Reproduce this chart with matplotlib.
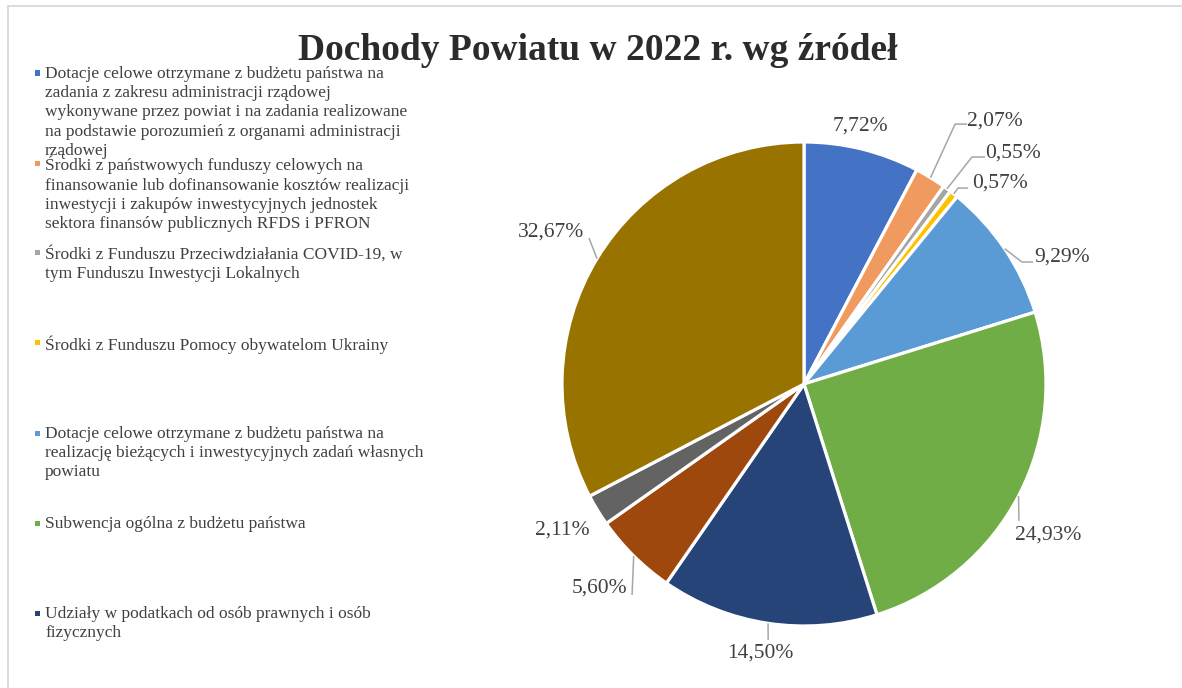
import numpy as np
import matplotlib
matplotlib.use("Agg")
import matplotlib.pyplot as plt
from matplotlib.lines import Line2D
from matplotlib.patches import Rectangle

# ---------------- data ----------------
title = "Dochody Powiatu w 2022 r. wg źródeł"
values = [7.72, 2.07, 0.55, 0.57, 9.29, 24.93, 14.50, 5.60, 2.11, 32.67]
legend_labels = [
    "Dotacje celowe otrzymane z budżetu państwa na\nzadania z zakresu administracji rządowej\n"
    "wykonywane przez powiat i na zadania realizowane\nna podstawie porozumień z organami administracji\nrządowej",
    "Środki z państwowych funduszy celowych na\nfinansowanie lub dofinansowanie kosztów realizacji\n"
    "inwestycji i zakupów inwestycyjnych jednostek\nsektora finansów publicznych RFDS i PFRON",
    "Środki z Funduszu Przeciwdziałania COVID-19, w\ntym Funduszu Inwestycji Lokalnych",
    "Środki z Funduszu Pomocy obywatelom Ukrainy",
    "Dotacje celowe otrzymane z budżetu państwa na\nrealizację bieżących i inwestycyjnych zadań własnych\npowiatu",
    "Subwencja ogólna z budżetu państwa",
    "Udziały w podatkach od osób prawnych i osób\nfizycznych",
]

# ---------------- style ----------------
colors = ["#4472C4", "#F09A60", "#A5A5A5", "#FFC000", "#5B9BD5",
          "#70AD47", "#264478", "#9E480E", "#636363", "#997300"]
SERIF = ["Liberation Serif", "DejaVu Serif"]
TXT = "#404040"
LEAD = "#A6A6A6"

# label placement: angle shift from wedge middle (deg, clockwise) and distance (in radii)
lab_shift = [-1.65, 4.5, 5.9, 6.05, 7.8, 4.1, 0.7, 0.4, 0.3, -0.2]
lab_dist = [1.091, 1.343, 1.287, 1.160, 1.188, 1.187, 1.126, 1.195, 1.168, 1.220]
# leader points relative to the label centre (pixels, image y down)
leaders = {1: [(-40, 3), (-28, 3)], 2: [(-41, 4), (-28, 4)], 3: [(-42, 5), (-32, 5)],
           4: [(-40, 5), (-29, 5)], 5: [(-29.5, -14)], 6: [(8, -13)], 7: [(33, 7)],
           9: [(38, 6)]}

W, H = 1182, 688
R_PX = 242.0
CX, CY = 804, 384  # pie centre in image pixels (from top)

fig = plt.figure(figsize=(W / 100, H / 100), dpi=100)
fig.patch.set_facecolor("white")

# frame lines (top and left visible)
fig.add_artist(Line2D([8 / W, 1.0], [1 - 6 / H, 1 - 6 / H], transform=fig.transFigure,
                      color="#D9D9D9", lw=1.3))
fig.add_artist(Line2D([8 / W, 8 / W], [0, 1 - 6 / H], transform=fig.transFigure,
                      color="#D9D9D9", lw=1.3))

xl = (-1.4, 1.55)
yl = (-1.25, 1.45)
left = CX - (-xl[0]) * R_PX
bottom = (H - CY) - (-yl[0]) * R_PX
ax = fig.add_axes([left / W, bottom / H, (xl[1] - xl[0]) * R_PX / W, (yl[1] - yl[0]) * R_PX / H])

wedges, _ = ax.pie(values, colors=colors, startangle=90, counterclock=False, radius=1,
                   wedgeprops=dict(edgecolor="white", linewidth=2.3))
ax.set_aspect("auto")
ax.set_xlim(*xl)
ax.set_ylim(*yl)
ax.axis("off")

for i, (w, v) in enumerate(zip(wedges, values)):
    mid = np.deg2rad((w.theta1 + w.theta2) / 2.0)  # counterclockwise from +x
    ang = mid - np.deg2rad(lab_shift[i])
    lx, ly = lab_dist[i] * np.cos(ang), lab_dist[i] * np.sin(ang)
    txt = f"{v:.2f}".replace(".", ",") + "%"
    ax.text(lx, ly, txt, ha="center", va="center", fontsize=15.5, family=SERIF,
            color=TXT, clip_on=False)
    if i in leaders:
        px, py = np.cos(mid), np.sin(mid)
        xs, ys = [px], [py]
        for dx, dy in leaders[i]:
            xs.append(lx + dx / R_PX)
            ys.append(ly - dy / R_PX)
        ax.plot(xs, ys, color=LEAD, lw=1.1, clip_on=False, solid_capstyle="butt")

# title
fig.text(598 / W, 1 - 50 / H, title, ha="center", va="center", fontsize=27,
         fontweight="bold", family=SERIF, color="#2b2b2b")

# legend (custom, as in the reference)
leg_x_txt = 45
leg_x_mk = 37
leg_top0 = 66
leg_mk0 = 73
leg_step = 90
for i, lab in enumerate(legend_labels):
    top = leg_top0 + i * leg_step
    fig.text(leg_x_txt / W, 1 - top / H, lab, ha="left", va="top",
             fontsize=12.5, family=SERIF, color=TXT, linespacing=1.27)
    mk = 5
    yc = leg_mk0 + i * leg_step
    fig.add_artist(Rectangle(((leg_x_mk - mk / 2) / W, 1 - (yc + mk / 2) / H),
                             mk / W, mk / H, transform=fig.transFigure,
                             facecolor=colors[i], edgecolor="none"))

fig.savefig("out.png", dpi=100, facecolor="white")
